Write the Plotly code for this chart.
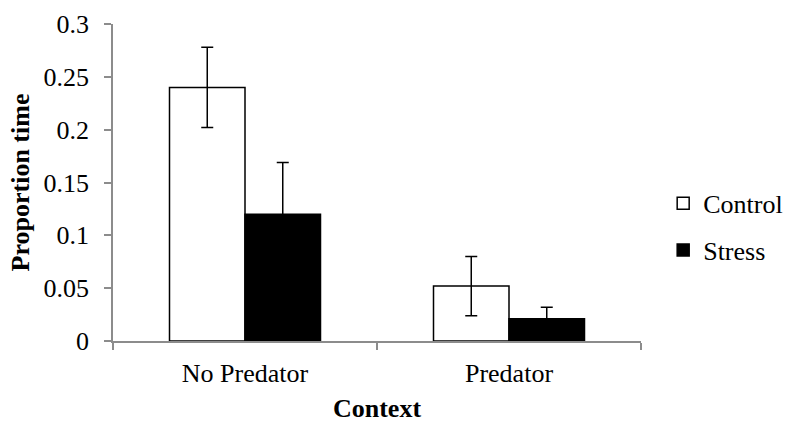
import plotly.graph_objects as go

# Proportion of time by context and treatment
contexts = ["No Predator", "Predator"]
control_mean = [0.24, 0.052]
control_err = [0.038, 0.028]
stress_mean = [0.12, 0.021]
stress_err = [0.049, 0.011]
y_ticks = [0, 0.05, 0.1, 0.15, 0.2, 0.25, 0.3]

FONT = "Times New Roman"
AXIS_GRAY = "#8c8c8c"
text_font = dict(family=FONT, size=26, color="black", weight="normal")
bold_font = dict(family=FONT, size=26, color="black", weight="bold")

fig = go.Figure()
fig.add_trace(go.Bar(
    name="Control", x=contexts, y=control_mean, legendgroup="c",
    marker=dict(color="white", line=dict(color="black", width=1.5)),
    error_y=dict(type="data", array=control_err, color="black", thickness=1.5, width=6),
))
fig.add_trace(go.Bar(
    name="Stress", x=contexts, y=stress_mean, legendgroup="s",
    marker=dict(color="black", line=dict(color="black", width=1.5)),
    error_y=dict(type="data", array=stress_err, color="black", thickness=1.5, width=6),
))

fig.update_layout(
    width=786, height=423,
    margin=dict(l=113, r=145, t=24, b=82, autoexpand=False),
    paper_bgcolor="white", plot_bgcolor="white",
    barmode="group", bargap=0.428, bargroupgap=0,
    font=text_font,
    showlegend=True,
    legend=dict(x=1.042, xanchor="left", y=0.36, yanchor="middle",
                font=text_font, tracegroupgap=10, bgcolor="rgba(0,0,0,0)"),
)
fig.update_xaxes(
    type="category", tickson="boundaries", ticks="outside", ticklen=7,
    tickcolor=AXIS_GRAY, tickwidth=1.5,
    showline=True, linecolor=AXIS_GRAY, linewidth=1.5, layer="above traces",
    showgrid=False, zeroline=False, ticklabelstandoff=8,
    tickfont=text_font,
    title=dict(text="Context", font=bold_font, standoff=12),
)
fig.update_yaxes(
    range=[0, 0.3], tickvals=y_ticks, ticktext=[f"{v:g}" for v in y_ticks],
    ticks="outside", ticklen=7, tickcolor=AXIS_GRAY, tickwidth=1.5,
    showline=True, linecolor=AXIS_GRAY, linewidth=1.5,
    showgrid=False, zeroline=False, ticklabelstandoff=10,
    tickfont=text_font,
    title=dict(text="Proportion time", font=bold_font, standoff=6),
)

fig.write_html("out.html")
